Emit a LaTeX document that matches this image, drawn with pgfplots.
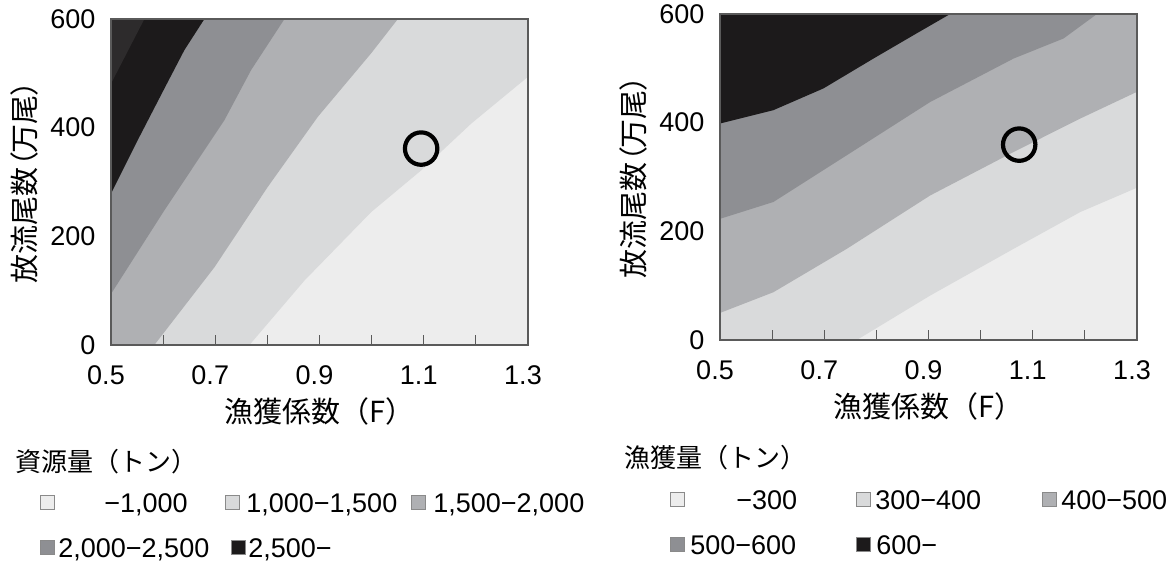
\documentclass[border=0pt]{standalone}
\usepackage{fontspec}
\setmainfont{Liberation Sans}
\newfontfamily\jp{Noto Sans CJK JP}
\newfontfamily\jpp[RawFeature=+palt]{Noto Sans CJK JP}
\usepackage{pgfplots}
\pgfplotsset{compat=1.18}

% grey levels of the contour bands
\definecolor{lvA}{HTML}{EDEDED}
\definecolor{lvB}{HTML}{D9DADB}
\definecolor{lvC}{HTML}{AFB0B3}
\definecolor{lvD}{HTML}{8E8F93}
\definecolor{lvE}{HTML}{1C1A1B}
\definecolor{lvF}{HTML}{2D2B2C}
\definecolor{axgray}{HTML}{5A5A5A}
\definecolor{swb}{HTML}{8A8A8A}

\newcommand{\lgfont}{\fontsize{13.5bp}{16bp}\selectfont}
\newcommand{\ttlfont}{\jp\fontsize{13bp}{15bp}\selectfont}
\newcommand{\sw}[1]{{\fboxsep=0pt\fboxrule=0.5bp\fcolorbox{swb}{#1}{\rule{0pt}{6.5bp}\rule{6.5bp}{0pt}}}}

\pgfplotsset{contourax/.style={
  scale only axis, width=208.5bp, height=163bp,
  xmin=0.5, xmax=1.3, ymin=0, ymax=600,
  xtick={0.5,0.6,0.7,0.8,0.9,1.0,1.1,1.2,1.3},
  xticklabels={0.5,,0.7,,0.9,,1.1,,1.3},
  ytick={0,200,400,600},
  xtick pos=bottom, ytick pos=left,
  tick align=inside, major tick length=5bp,
  ytick style={draw=none},
  xtick style={draw=axgray, line width=0.6bp},
  axis line style={draw=axgray, line width=0.75bp},
  axis on top,
  /pgf/number format/assume math mode=true,
  tick label style={font=\fontsize{13.5bp}{16bp}\selectfont, text=black},
  xticklabel style={yshift=-6.75bp, xshift=-2.5bp},
  yticklabel style={xshift=-4.3bp},
  label style={font=\jp\fontsize{14.5bp}{17bp}\selectfont},
  xlabel style={at={([yshift=-33bp]axis description cs:0.5,0)}, anchor=center},
  ylabel style={at={([xshift=-43.5bp]axis description cs:0,0.5)}, anchor=center},
  xlabel={漁獲係数（F）},
  ylabel={\jpp 放流尾数（万尾）},
}}

\begin{document}
\begin{tikzpicture}
\path[use as bounding box] (0,0) rectangle (587.5bp,281.5bp);

% stock biomass (tonnes)
\begin{axis}[contourax, at={(55.5bp,109bp)}, anchor=south west]
\addplot[fill=lvA, draw=none] coordinates {(0.5,0) (1.3,0) (1.3,600) (0.5,600)} -- cycle;
\addplot[fill=lvB, draw=none] coordinates {(0.7656,0) (0.8712,118.7) (0.9992,244.7) (1.0952,321.5) (1.1912,407.6) (1.3,493.7) (1.3,600) (0.5,600) (0.5,0)} -- cycle;
\addplot[fill=lvC, draw=none] coordinates {(0.5832,0) (0.6984,143) (0.8008,291) (0.8968,420) (0.9992,537) (1.0504,600) (0.5,600) (0.5,0)} -- cycle;
\addplot[fill=lvD, draw=none] coordinates {(0.5,94) (0.6024,247.8) (0.7176,413.8) (0.7688,506) (0.8328,600) (0.5,600)} -- cycle;
\addplot[fill=lvE, draw=none] coordinates {(0.5,278.5) (0.5512,376.9) (0.6024,472) (0.6408,542.8) (0.6792,600) (0.5,600)} -- cycle;
\addplot[fill=lvF, draw=none] coordinates {(0.5,481) (0.564,600) (0.5,600)} -- cycle;
\addplot[only marks, mark=o, mark size=8.1bp, mark options={line width=2.1bp, draw=black}] coordinates {(1.095,361.5)};
\end{axis}

% catch (tonnes)
\begin{axis}[contourax, at={(360bp,111.5bp)}, anchor=south west]
\addplot[fill=lvA, draw=none] coordinates {(0.5,0) (1.3,0) (1.3,600) (0.5,600)} -- cycle;
\addplot[fill=lvB, draw=none] coordinates {(0.7624,0) (0.9032,81.8) (1.0632,167.8) (1.1912,235.5) (1.3,280.3) (1.3,600) (0.5,600) (0.5,0)} -- cycle;
\addplot[fill=lvC, draw=none] coordinates {(0.5,49.8) (0.6024,87.9) (0.7432,167.8) (0.9032,266) (1.0632,346) (1.1912,407.6) (1.3,456.8) (1.3,600) (0.5,600)} -- cycle;
\addplot[fill=lvD, draw=none] coordinates {(0.5,223) (0.6024,254) (0.7432,340) (0.9032,438) (1.0632,518) (1.1592,555) (1.2232,600) (0.5,600)} -- cycle;
\addplot[fill=lvE, draw=none] coordinates {(0.5,398.4) (0.6024,423) (0.6984,463) (0.7944,518) (0.8712,561) (0.9416,600) (0.5,600)} -- cycle;
\addplot[only marks, mark=o, mark size=8.1bp, mark options={line width=2.1bp, draw=black}] coordinates {(1.074,359.6)};
\end{axis}

% legends
\begin{scope}[x=0.5bp, y=-0.5bp, shift={(0,281.5bp)}]
\node[anchor=west, inner sep=0, font=\ttlfont] at (15,462) {資源量（トン）};
\node[anchor=west, inner sep=0] at (40,503) {\sw{lvA}};
\node[anchor=base west, inner sep=0, font=\lgfont] at (104,512.7) {−1,000};
\node[anchor=west, inner sep=0] at (225,503) {\sw{lvB}};
\node[anchor=base west, inner sep=0, font=\lgfont] at (246,512.7) {1,000−1,500};
\node[anchor=west, inner sep=0] at (411,503) {\sw{lvC}};
\node[anchor=base west, inner sep=0, font=\lgfont] at (433,512.7) {1,500−2,000};
\node[anchor=west, inner sep=0] at (40,548) {\sw{lvD}};
\node[anchor=base west, inner sep=0, font=\lgfont] at (58,557.7) {2,000−2,500};
\node[anchor=west, inner sep=0] at (231,548) {\sw{lvE}};
\node[anchor=base west, inner sep=0, font=\lgfont] at (248,557.7) {2,500−};

\node[anchor=west, inner sep=0, font=\ttlfont] at (624,458) {漁獲量（トン）};
\node[anchor=west, inner sep=0] at (670,500) {\sw{lvA}};
\node[anchor=base west, inner sep=0, font=\lgfont] at (736,509.7) {−300};
\node[anchor=west, inner sep=0] at (856,500) {\sw{lvB}};
\node[anchor=base west, inner sep=0, font=\lgfont] at (875,509.7) {300−400};
\node[anchor=west, inner sep=0] at (1042,500) {\sw{lvC}};
\node[anchor=base west, inner sep=0, font=\lgfont] at (1061,509.7) {400−500};
\node[anchor=west, inner sep=0] at (670,545) {\sw{lvD}};
\node[anchor=base west, inner sep=0, font=\lgfont] at (690,554.7) {500−600};
\node[anchor=west, inner sep=0] at (856,545) {\sw{lvE}};
\node[anchor=base west, inner sep=0, font=\lgfont] at (876,554.7) {600−};
\end{scope}
\end{tikzpicture}
\end{document}
